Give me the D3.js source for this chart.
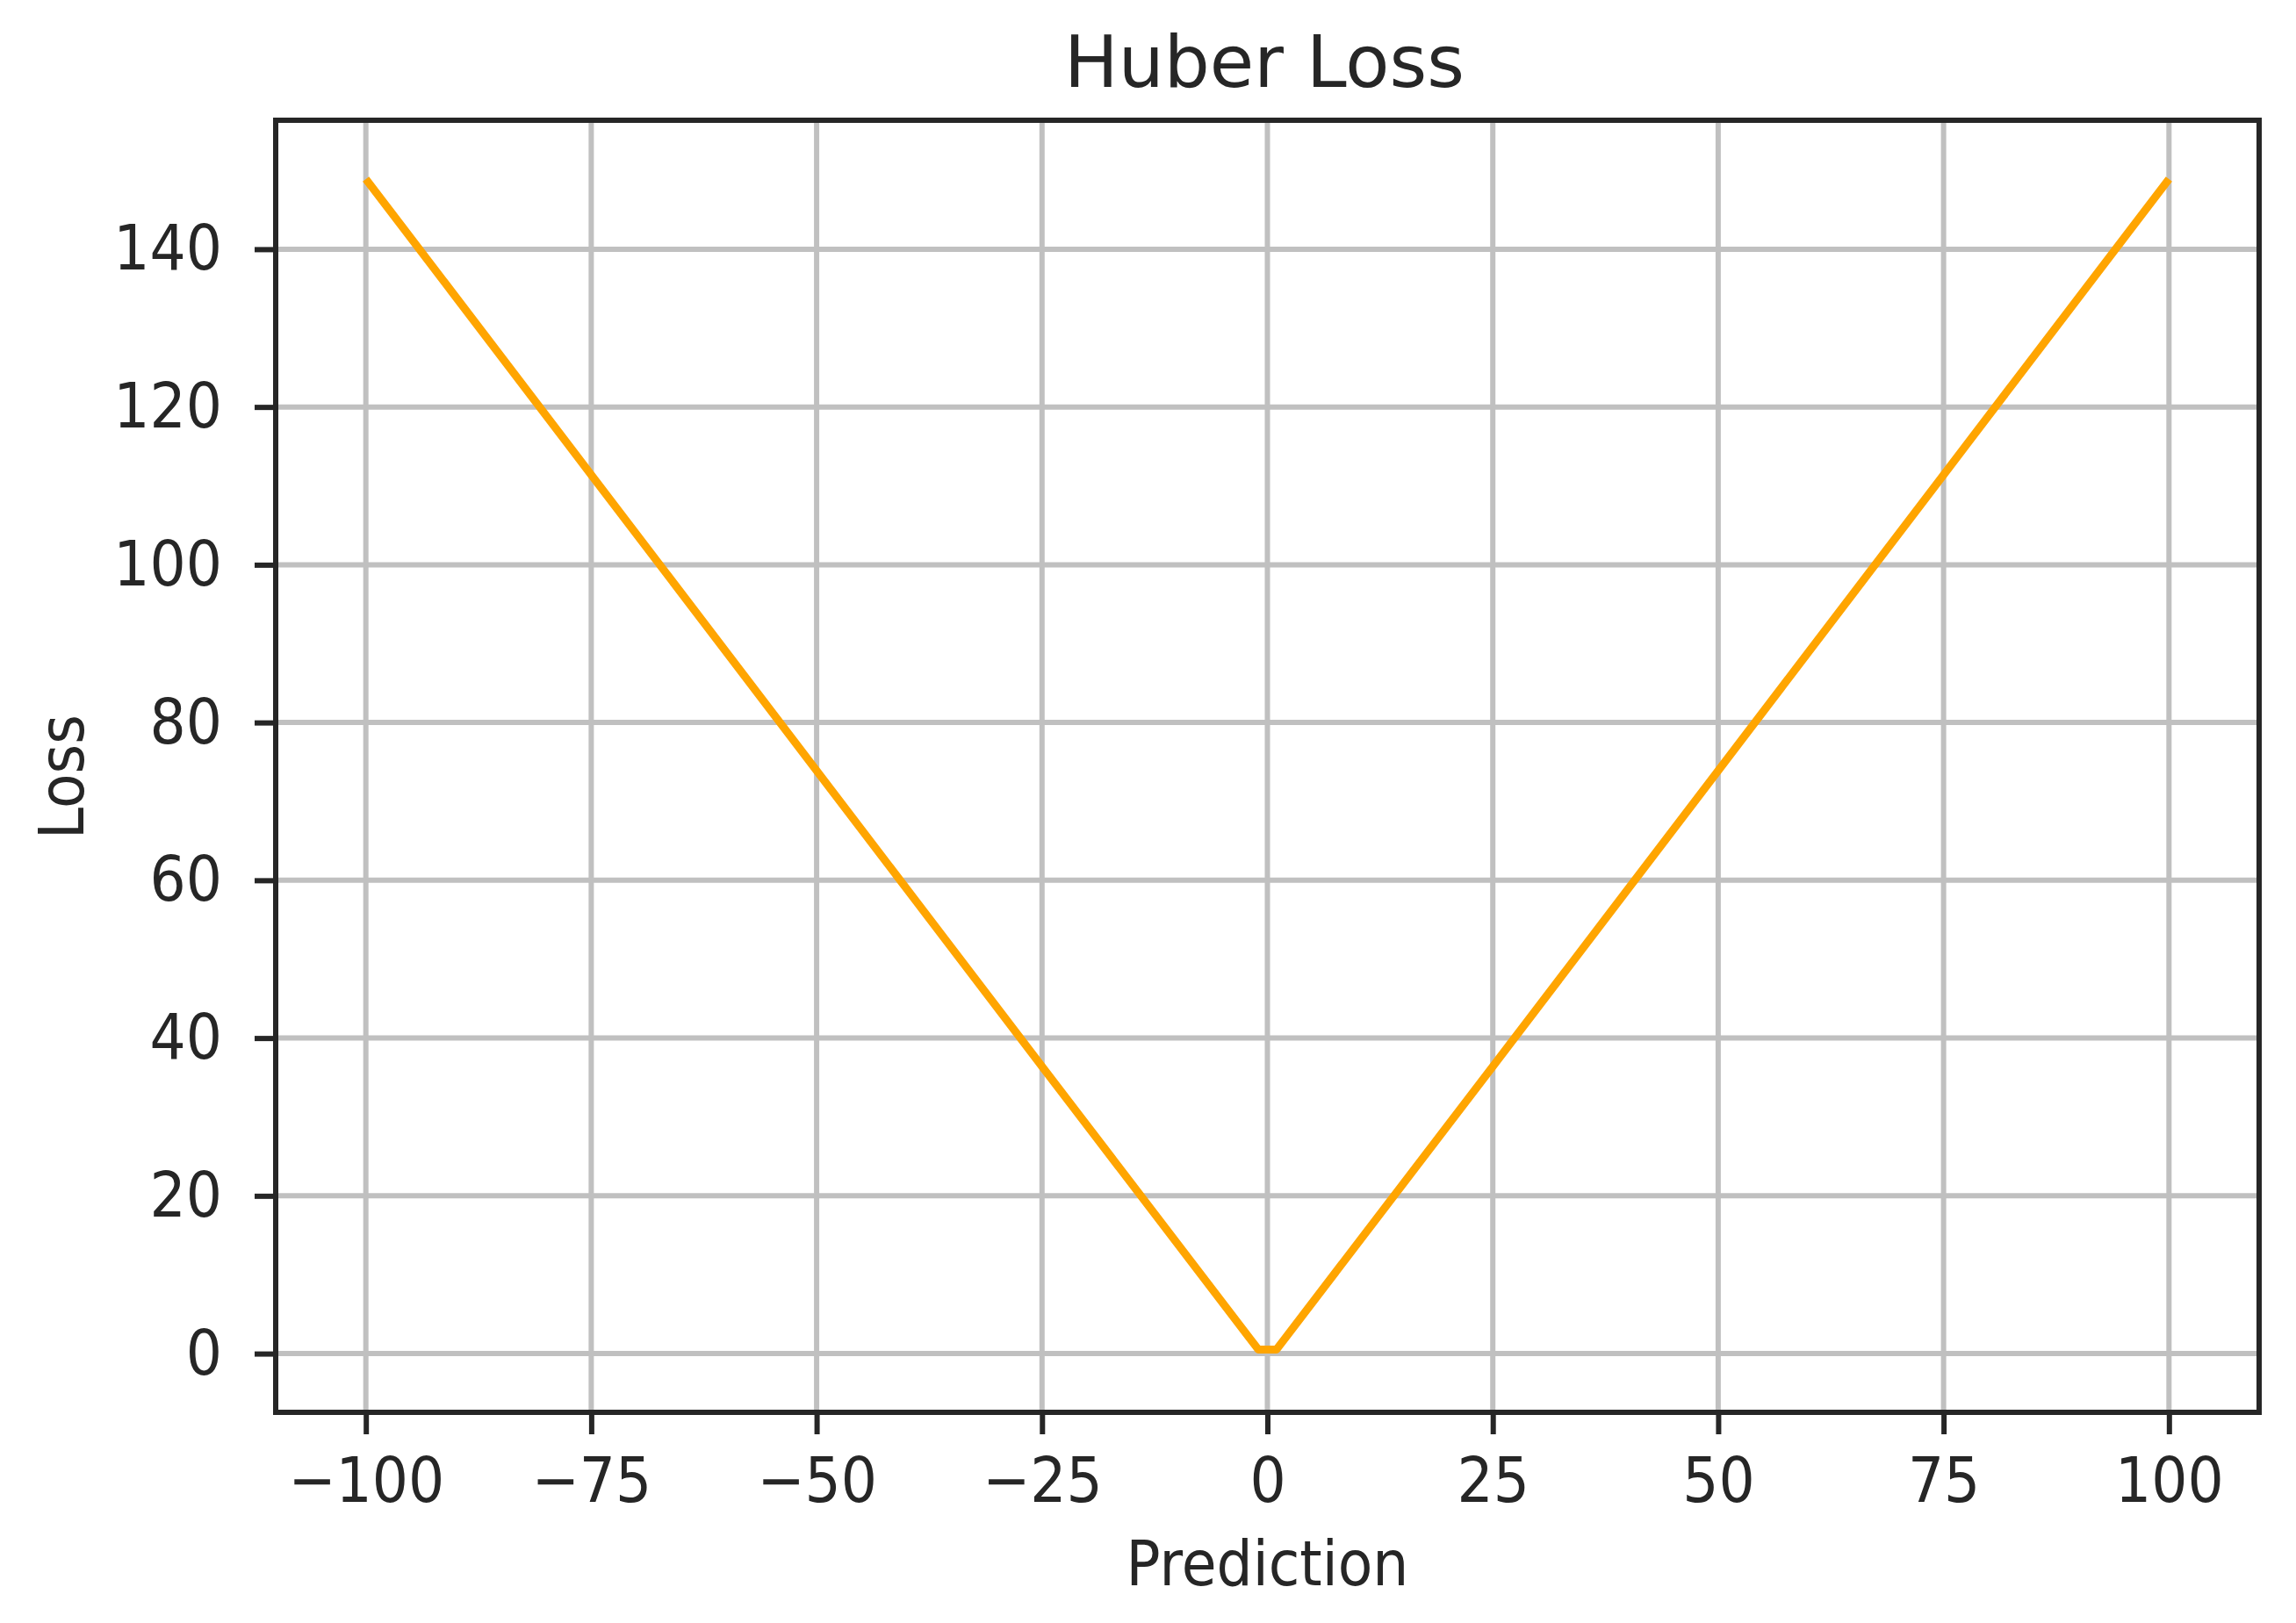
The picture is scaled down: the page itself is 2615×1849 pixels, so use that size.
<!DOCTYPE html>
<html>
<head>
<meta charset="utf-8">
<script src="https://cdn.jsdelivr.net/npm/d3@7"></script>
<style>
  html, body { margin: 0; padding: 0; background: #ffffff; }
  svg { display: block; font-family: "DejaVu Sans", sans-serif; }
</style>
</head>
<body>
<div id="chart"></div>
<script>
// Huber loss curve
const predictions = [-100, -75, -50, -25, -1, 1, 25, 50, 75, 100];
const losses = [148.9, 111.4, 73.9, 36.4, 0.5, 0.5, 36.4, 73.9, 111.4, 148.9];
const xTicks = [-100, -75, -50, -25, 0, 25, 50, 75, 100];
const yTicks = [0, 20, 40, 60, 80, 100, 120, 140];

const width = 2615;
const height = 1849;
const margin = { top: 137, right: 42, bottom: 240, left: 314 };
const innerW = width - margin.left - margin.right;
const innerH = height - margin.top - margin.bottom;

const lineColor = "#ffa500";
const gridColor = "#c0c0c0";
const axisColor = "#262626";
const fontSize = 72;
const squeeze = 0.9; // the source text renders a bit narrow

const svg = d3.select("#chart")
  .append("svg")
  .attr("width", width)
  .attr("height", height);

const g = svg.append("g")
  .attr("transform", `translate(${margin.left},${margin.top})`);

// matplotlib-style 5% padding around the data
const xExtent = d3.extent(predictions);
const yExtent = d3.extent(losses.concat([0]));
const xPad = (xExtent[1] - xExtent[0]) * 0.05;
const yPad = (yExtent[1] - yExtent[0]) * 0.05;

const x = d3.scaleLinear()
  .domain([xExtent[0] - xPad, xExtent[1] + xPad])
  .range([0, innerW]);

const y = d3.scaleLinear()
  .domain([yExtent[0] - yPad, yExtent[1] + yPad])
  .range([innerH, 0]);

// grid lines
g.append("g")
  .selectAll("line.vgrid")
  .data(xTicks)
  .join("line")
  .attr("class", "vgrid")
  .attr("x1", (d) => x(d))
  .attr("x2", (d) => x(d))
  .attr("y1", 0)
  .attr("y2", innerH)
  .attr("stroke", gridColor)
  .attr("stroke-width", 6);

g.append("g")
  .selectAll("line.hgrid")
  .data(yTicks)
  .join("line")
  .attr("class", "hgrid")
  .attr("x1", 0)
  .attr("x2", innerW)
  .attr("y1", (d) => y(d))
  .attr("y2", (d) => y(d))
  .attr("stroke", gridColor)
  .attr("stroke-width", 6);

// the loss curve
const line = d3.line()
  .x((d, i) => x(predictions[i]))
  .y((d) => y(d));

g.append("path")
  .datum(losses)
  .attr("d", line)
  .attr("fill", "none")
  .attr("stroke", lineColor)
  .attr("stroke-width", 9)
  .attr("stroke-linejoin", "round");

// axes
const xAxis = g.append("g")
  .attr("transform", `translate(0,${innerH})`)
  .call(d3.axisBottom(x).tickValues(xTicks).tickSize(25).tickPadding(26).tickFormat(d3.format("d")));

const yAxis = g.append("g")
  .call(d3.axisLeft(y).tickValues(yTicks).tickSize(24).tickPadding(30).tickFormat(d3.format("d")));

[xAxis, yAxis].forEach((a) => {
  a.select(".domain").remove();
  a.selectAll(".tick line").attr("stroke", axisColor).attr("stroke-width", 6);
  a.selectAll(".tick text")
    .attr("fill", axisColor)
    .attr("font-size", fontSize)
    .attr("font-family", "DejaVu Sans")
    .attr("transform", `scale(${squeeze},1)`);
});
yAxis.selectAll(".tick text").attr("x", -61 / squeeze);

// frame
g.append("rect")
  .attr("x", 0)
  .attr("y", 0)
  .attr("width", innerW)
  .attr("height", innerH)
  .attr("fill", "none")
  .attr("stroke", axisColor)
  .attr("stroke-width", 6);

// title and labels
svg.append("text")
  .attr("x", 1440)
  .attr("y", 99)
  .attr("text-anchor", "middle")
  .attr("fill", axisColor)
  .attr("font-size", 82)
  .text("Huber Loss");

svg.append("text")
  .attr("transform", `translate(${margin.left + innerW / 2},1806) scale(${squeeze},1)`)
  .attr("text-anchor", "middle")
  .attr("fill", axisColor)
  .attr("font-size", fontSize)
  .text("Prediction");

svg.append("text")
  .attr("transform", `translate(95,885) rotate(-90) scale(${squeeze},1)`)
  .attr("text-anchor", "middle")
  .attr("fill", axisColor)
  .attr("font-size", fontSize)
  .text("Loss");
</script>
</body>
</html>
